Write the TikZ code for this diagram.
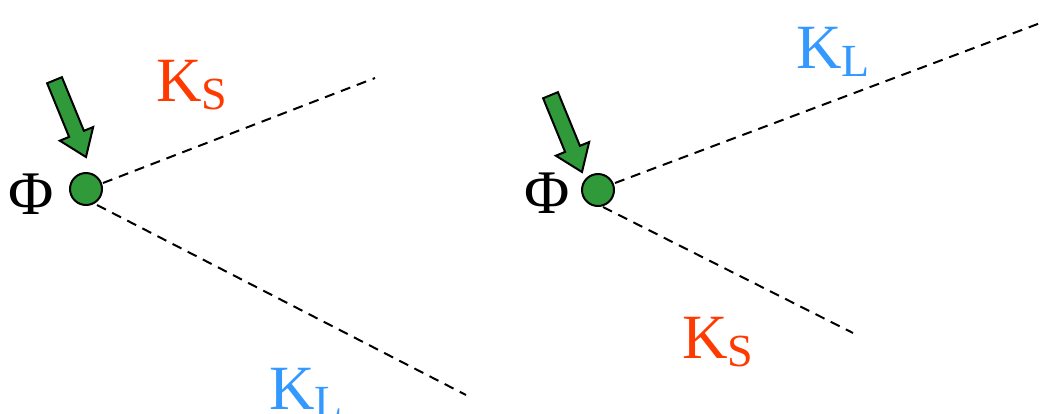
\documentclass[tikz,border=0pt]{standalone}
\usepackage{fontspec}
\setmainfont{Liberation Serif}
\definecolor{kgreen}{RGB}{48,154,58}
\definecolor{kred}{RGB}{255,58,0}
\definecolor{kblue}{RGB}{51,153,255}
\tikzset{
  dotnode/.style={circle,draw=black,fill=kgreen,line width=2pt,minimum size=32pt,inner sep=0pt},
  kline/.style={black,line width=2pt,dash pattern=on 10pt off 7pt},
  lbl/.style={anchor=base west,inner sep=0pt,outer sep=0pt},
  garrow/.pic={\filldraw[fill=kgreen,draw=black,line width=2pt,line join=miter]
     (0pt,0pt) -- (-25pt,18pt) -- (-25pt,8pt) -- (-83pt,8pt) -- (-83pt,-8pt)
     -- (-25pt,-8pt) -- (-25pt,-18pt) -- cycle;}
}
\newcommand{\Kbig}[1]{{\fontsize{63}{63}\selectfont K}\raisebox{-8pt}{\fontsize{46}{46}\selectfont #1}}
\begin{document}
\begin{tikzpicture}[x=1pt,y=-1pt]
\useasboundingbox (0,0) rectangle (1051,413);
% left diagram
\node[dotnode] (c1) at (86,189) {};
\coordinate (a1) at (103,183);
\coordinate (a2) at (375,78);
\coordinate (b1) at (97,205);
\coordinate (b2) at (466,395);
\draw[kline] (a1) -- (a2);
\draw[kline] (b1) -- (b2);
\pic[rotate=-67.7] at (86,157) {garrow};
\node[lbl] (phi1) at (9,214) {\fontsize{62}{62}\selectfont Φ};
\node[lbl,text=kred] (ks1) at (156,101) {\Kbig{S}};
\node[lbl,text=kblue] (kl1) at (269,409) {\Kbig{L}};
% right diagram
\node[dotnode] (c2) at (598,190) {};
\coordinate (d1) at (615,183);
\coordinate (d2) at (1043,22);
\coordinate (e1) at (603,207);
\coordinate (e2) at (853,333);
\draw[kline] (d1) -- (d2);
\draw[kline] (e1) -- (e2);
\pic[rotate=-67.7] at (582,172) {garrow};
\node[lbl] (phi2) at (524,213) {\fontsize{62}{62}\selectfont Φ};
\node[lbl,text=kblue] (kl2) at (796,68) {\Kbig{L}};
\node[lbl,text=kred] (ks2) at (682,358) {\Kbig{S}};
\end{tikzpicture}
\end{document}
